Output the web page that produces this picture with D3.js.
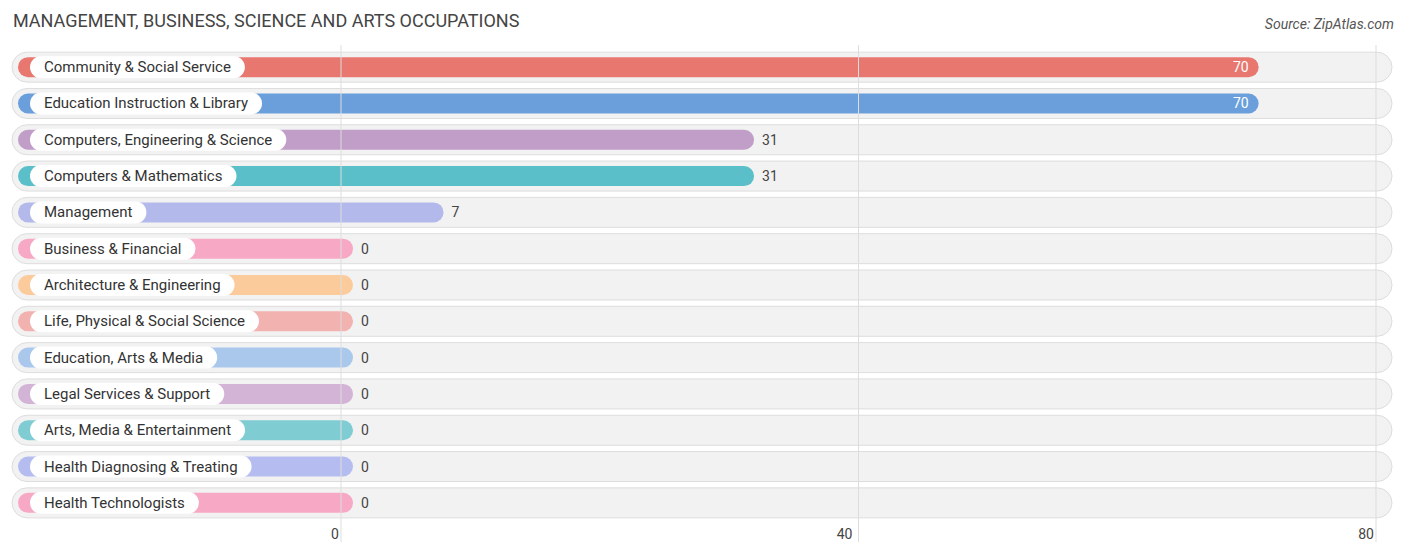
<!DOCTYPE html><html><head><meta charset="utf-8"><script src="https://cdn.jsdelivr.net/npm/d3@7"></script>
<style>body{margin:0;background:#fff;font-family:Roboto,sans-serif}</style></head><body><svg id="c" width="1406" height="558"></svg>
<script>
const categories=["Community & Social Service","Education Instruction & Library","Computers, Engineering & Science","Computers & Mathematics","Management","Business & Financial","Architecture & Engineering","Life, Physical & Social Science","Education, Arts & Media","Legal Services & Support","Arts, Media & Entertainment","Health Diagnosing & Treating","Health Technologists"];
const values=[70,70,31,31,7,0,0,0,0,0,0,0,0];
const colors=["#e8776f","#6a9fdc","#c09ec8","#5bbfc9","#b3b9ea","#f7a8c4","#fccb9c","#f2b2b0","#a9c8ec","#d3b3d6","#7fcdd3","#b5bdf0","#f7a8c4"];
const ticks=[0,40,80];
const svg=d3.select("#c");
const x=d3.scaleLinear().domain([0,80]).range([341,1376]);
const y=d3.scaleBand().domain(categories).range([49,521]).paddingInner(0);
svg.append("text").attr("x",13).attr("y",27).attr("font-size",18).attr("fill","#444").text("MANAGEMENT, BUSINESS, SCIENCE AND ARTS OCCUPATIONS");
svg.append("text").attr("x",1394).attr("y",29).attr("font-size",14).attr("font-style","italic").attr("fill","#555").attr("text-anchor","end").text("Source: ZipAtlas.com");
const g=svg.append("g");
categories.forEach((c,i)=>{
  const cy=y(c)+y.bandwidth()/2;
  g.append("rect").attr("x",12).attr("y",cy-15).attr("width",1380).attr("height",30).attr("rx",15).attr("fill","#f2f2f2").attr("stroke","#ddd");
});
ticks.forEach(t=>svg.append("line").attr("x1",x(t)).attr("x2",x(t)).attr("y1",45).attr("y2",542).attr("stroke","#ddd"));
categories.forEach((c,i)=>{
  const cy=y(c)+y.bandwidth()/2, v=values[i], end=x(v)+12;
  g.append("rect").attr("x",18).attr("y",cy-10).attr("width",end-18).attr("height",20).attr("rx",10).attr("fill",colors[i]);
  const t=g.append("text").attr("x",44).attr("y",cy+5).attr("font-size",15).attr("fill","#333").text(c);
  const w=t.node().getComputedTextLength();
  g.insert("rect","text:last-child").attr("x",30).attr("y",cy-11).attr("width",w+28).attr("height",22).attr("rx",11).attr("fill","#fff");
  t.raise();
  const inside=v>50;
  g.append("text").attr("x",inside?end-10:end+8).attr("y",cy+5).attr("font-size",14).attr("text-anchor",inside?"end":"start").attr("fill",inside?"#fff":"#444").text(v);
});
ticks.forEach((t,i)=>svg.append("text").attr("x",x(t)+(i==0?-6:i==2?-10:-14)).attr("y",539).attr("font-size",14).attr("fill","#444").attr("text-anchor","middle").text(t));
</script></body></html>
